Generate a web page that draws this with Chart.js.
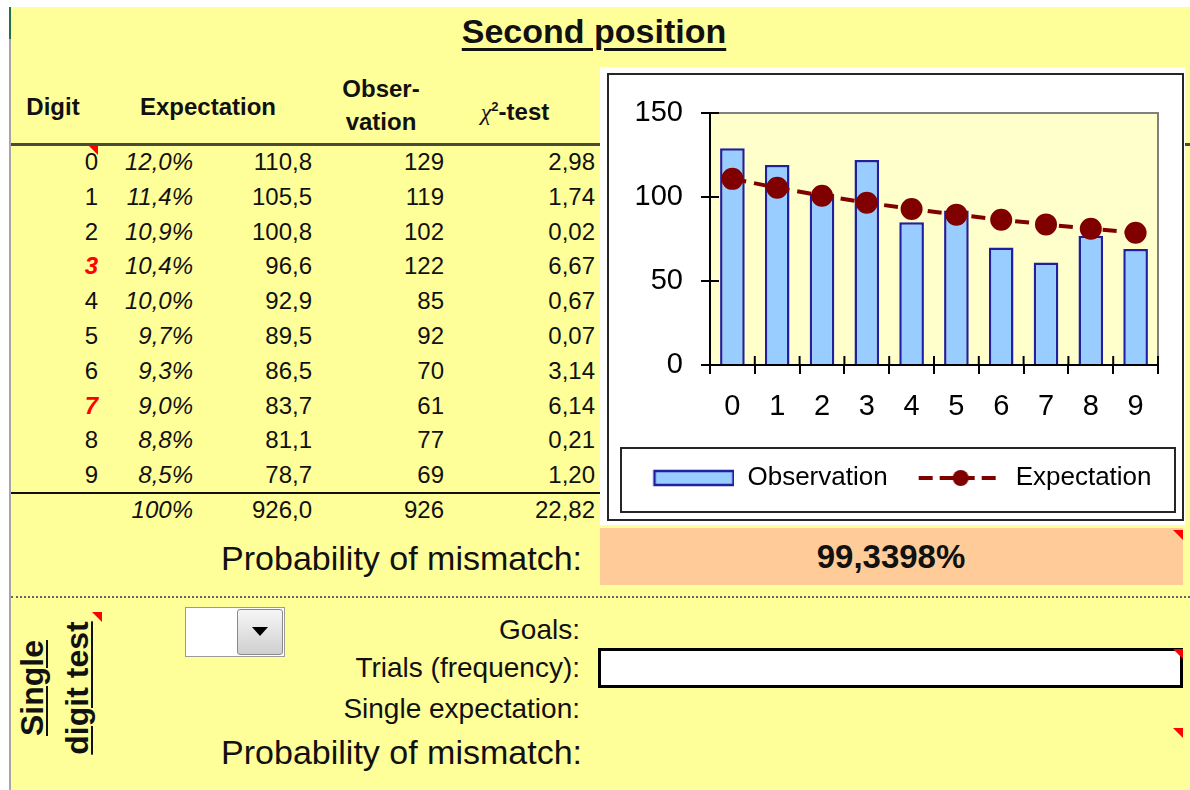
<!DOCTYPE html>
<html>
<head>
<meta charset="utf-8">
<title>Second position</title>
<script src="https://cdn.jsdelivr.net/npm/chart.js@4.4.0/dist/chart.umd.min.js"></script>
<style>
  html, body { margin: 0; padding: 0; }
  body {
    width: 1190px; height: 790px; overflow: hidden; position: relative;
    background: #fff; color: #111;
    font-family: "Liberation Sans", Arial, sans-serif;
  }
  .abs { position: absolute; }
  .cell { position: absolute; white-space: nowrap; height: 40px; line-height: 40px; }
  .it { font-style: italic; }
  .b { font-weight: bold; }
  .red { color: #ff0000; font-weight: bold; font-style: italic; }
  .flag { position: absolute; width: 0; height: 0; border-top: 10px solid #ff0000; border-left: 10px solid transparent; }
  #sheet { left: 11px; top: 7px; width: 1179px; height: 783px; background: #ffff99; }
  #title {
    left: 394px; width: 400px; top: 12px; text-align: center;
    font-size: 34px; font-weight: bold; text-decoration: underline;
    text-decoration-thickness: 3px; text-underline-offset: 5px;
  }
  #chartWrap { left: 600px; top: 67px; width: 585px; height: 458px; background: #fff; z-index: 2; }
  #chartFrame { left: 607px; top: 73px; width: 573px; height: 444px; border: 2px solid #262626; z-index: 3; background: #fff; }
  #rotated {
    left: -25px; top: 643px; width: 160px; height: 90px; line-height: 45px;
    text-align: center; font-size: 32px; font-weight: bold;
    text-decoration: underline; text-decoration-thickness: 2px; text-underline-offset: 3px;
    transform: rotate(-90deg);
  }
</style>
</head>
<body>
<div class="abs" id="sheet"></div>
<div class="abs" style="left:9px;top:7px;width:2px;height:783px;background:#a6a6a6;"></div>
<div class="abs" style="left:9px;top:7px;width:2px;height:32px;background:#217346;"></div>

<div class="abs" id="title">Second position</div>

<!-- sheet rules -->
<div class="abs" style="left:11px;top:143px;width:1179px;height:3px;background:#4a4a3a;"></div>
<div class="abs" style="left:11px;top:492px;width:590px;height:2px;background:#111;"></div>
<div class="abs" style="left:11px;top:596px;width:1179px;height:0;border-top:2px dotted #666;"></div>

<!-- mismatch cell -->
<div class="abs" style="left:600px;top:528px;width:583px;height:57px;background:#ffcc99;"></div>

<!-- dropdown -->
<div class="abs" style="left:185px;top:607px;width:98px;height:48px;background:#fff;border:1px solid #9a9a9a;"></div>
<div class="abs" style="left:237px;top:609px;width:44px;height:44px;border:1px solid #8a8a8a;border-radius:3px;background:linear-gradient(#f6f6f6,#cfcfcf);"></div>
<div class="abs" style="left:252px;top:627px;width:0;height:0;border-left:8px solid transparent;border-right:8px solid transparent;border-top:9px solid #000;"></div>

<!-- trials box -->
<div class="abs" style="left:598px;top:648px;width:579px;height:34px;background:#fff;border:3px solid #000;"></div>

<div class="abs" id="rotated">Single<br>digit test</div>

<div class="abs" id="chartWrap"></div>
<div class="abs" id="chartFrame"><canvas id="chart" width="573" height="444"></canvas></div>

<script>
// chart and table values
const digits = ['0', '1', '2', '3', '4', '5', '6', '7', '8', '9'];
const expectShare = [12.0, 11.4, 10.9, 10.4, 10.0, 9.7, 9.3, 9.0, 8.8, 8.5];
const expectation = [110.8, 105.5, 100.8, 96.6, 92.9, 89.5, 86.5, 83.7, 81.1, 78.7];
const observation = [129, 119, 102, 122, 85, 92, 70, 61, 77, 69];
const chiSquare = [2.98, 1.74, 0.02, 6.67, 0.67, 0.07, 3.14, 6.14, 0.21, 1.20];
const flaggedDigits = ['3', '7'];
const totalShare = 100;
const totalExpectation = 926.0;
const totalObservation = 926;
const totalChi = 22.82;
const mismatchProbability = 99.3398;
const yMin = 0, yMax = 150, yStep = 50;

const fmt = (v, d) => v.toFixed(d).replace('.', ',');

function put(text, x, y, align, size, cls) {
    const el = document.createElement('div');
    el.className = 'cell ' + (cls || '');
    el.textContent = text;
    const w = 500;
    el.style.width = w + 'px';
    el.style.textAlign = align;
    el.style.left = (align === 'right' ? x - w : align === 'center' ? x - w / 2 : x) + 'px';
    el.style.top = (y - 20) + 'px';
    el.style.fontSize = size + 'px';
    el.style.zIndex = 1;
    document.body.appendChild(el);
}

// === TABLE ===
put('Digit', 53, 107, 'center', 24, 'b');
put('Expectation', 208, 107, 'center', 24, 'b');
put('Obser-', 381, 89, 'center', 24, 'b');
put('vation', 381, 122, 'center', 24, 'b');
const chiHead = document.createElement('div');
chiHead.className = 'cell b';
chiHead.innerHTML = '<i style="font-family:\'Liberation Serif\',serif;font-weight:normal">&chi;</i><sup style="font-size:13px">2</sup>-test';
chiHead.style.cssText += 'left:415px;width:200px;text-align:center;top:87px;font-size:24px;z-index:1';
document.body.appendChild(chiHead);

digits.forEach((d, i) => {
    const y = 162 + i * 34.8;
    put(d, 98, y, 'right', 24, flaggedDigits.includes(d) ? 'red' : '');
    put(fmt(expectShare[i], 1) + '%', 193, y, 'right', 24, 'it');
    put(fmt(expectation[i], 1), 312, y, 'right', 24);
    put(String(observation[i]), 444, y, 'right', 24);
    put(fmt(chiSquare[i], 2), 595, y, 'right', 24);
});
put(totalShare + '%', 193, 510, 'right', 24, 'it');
put(fmt(totalExpectation, 1), 312, 510, 'right', 24);
put(String(totalObservation), 444, 510, 'right', 24);
put(fmt(totalChi, 2), 595, 510, 'right', 24);

put('Probability of mismatch:', 582, 558, 'right', 34);
put(fmt(mismatchProbability, 4) + '%', 891, 557, 'center', 33, 'b');
put('Goals:', 580, 630, 'right', 28);
put('Trials (frequency):', 580, 668, 'right', 28);
put('Single expectation:', 580, 709, 'right', 28);
put('Probability of mismatch:', 582, 752, 'right', 34);

// comment markers
[[98, 145], [102, 612], [1183, 530], [1183, 649], [1183, 728]].forEach(([x, y]) => {
    const f = document.createElement('div');
    f.className = 'flag';
    f.style.left = (x - 10) + 'px';
    f.style.top = y + 'px';
    f.style.zIndex = 4;
    document.body.appendChild(f);
});

// === CHART ===
Chart.defaults.font.family = '"Liberation Sans", Arial, sans-serif';
Chart.defaults.color = '#000';

const SYMBOL_W = 95;
function legendSymbol(kind) {
    const c = document.createElement('canvas');
    c.width = SYMBOL_W; c.height = 26;
    const g = c.getContext('2d');
    if (kind === 'bar') {
        g.fillStyle = '#99ccff';
        g.strokeStyle = '#1f1f9f';
        g.lineWidth = 2.5;
        g.fillRect(15, 6, 79, 14);
        g.strokeRect(15, 6, 79, 14);
    } else {
        g.strokeStyle = '#800000';
        g.lineWidth = 4;
        g.setLineDash([14, 7]);
        g.beginPath();
        g.moveTo(11, 13); g.lineTo(95, 13);
        g.stroke();
        g.fillStyle = '#800000';
        g.beginPath();
        g.arc(53, 13, 8, 0, Math.PI * 2);
        g.fill();
    }
    return c;
}
const barSymbol = legendSymbol('bar');
const lineSymbol = legendSymbol('line');

const frameDecor = {
    id: 'frameDecor',
    beforeDraw(chart) {
        const { ctx, chartArea: a } = chart;
        ctx.save();
        ctx.fillStyle = '#ffffcc';
        ctx.fillRect(a.left, a.top, a.right - a.left, a.bottom - a.top);
        ctx.restore();
    },
    afterDraw(chart) {
        const { ctx, chartArea: a } = chart;
        ctx.save();
        // plot area border (top and right)
        ctx.strokeStyle = '#808080';
        ctx.lineWidth = 2;
        ctx.beginPath();
        ctx.moveTo(a.left, a.top); ctx.lineTo(a.right, a.top); ctx.lineTo(a.right, a.bottom);
        ctx.stroke();
        // cross tick marks inside the plot
        ctx.strokeStyle = '#000';
        const ys = chart.scales.y;
        ys.ticks.forEach(t => {
            const y = ys.getPixelForValue(t.value);
            ctx.beginPath(); ctx.moveTo(a.left, y); ctx.lineTo(a.left + 9, y); ctx.stroke();
        });
        const n = chart.data.labels.length;
        for (let i = 0; i <= n; i++) {
            const x = a.left + i * (a.right - a.left) / n;
            ctx.beginPath(); ctx.moveTo(x, a.bottom - 9); ctx.lineTo(x, a.bottom); ctx.stroke();
        }
        // legend box
        const lg = chart.legend;
        ctx.strokeStyle = '#262626';
        ctx.lineWidth = 2;
        ctx.strokeRect(12, lg.top + 3, chart.width - 19, 64);
        ctx.restore();
    }
};

new Chart(document.getElementById('chart').getContext('2d'), {
    type: 'bar',
    data: {
        labels: digits,
        datasets: [{
            type: 'bar',
            label: 'Observation',
            data: observation,
            backgroundColor: '#99ccff',
            borderColor: '#1f1f9f',
            borderWidth: 2.5,
            barPercentage: 0.55,
            categoryPercentage: 1,
            order: 2
        }, {
            type: 'line',
            label: 'Expectation',
            data: expectation,
            borderColor: '#800000',
            borderWidth: 4,
            borderDash: [14, 8],
            pointRadius: 9,
            pointBackgroundColor: '#800000',
            pointBorderColor: '#800000',
            tension: 0,
            order: 1
        }]
    },
    options: {
        responsive: false,
        animation: false,
        layout: { padding: { top: 38, left: 0, right: 0, bottom: 18 } },
        scales: {
            x: {
                grid: { offset: true, drawOnChartArea: false, drawTicks: true, tickLength: 9, color: '#000', lineWidth: 2 },
                border: { color: '#000', width: 2 },
                ticks: { font: { size: 29 }, padding: 16, color: '#000' },
                afterFit(s) { s.height = 80; }
            },
            y: {
                min: yMin, max: yMax,
                grid: { drawOnChartArea: false, drawTicks: true, tickLength: 9, color: '#000', lineWidth: 2 },
                border: { color: '#000', width: 2 },
                ticks: { stepSize: yStep, font: { size: 29 }, padding: 18, color: '#000' },
                afterFit(s) { s.width = 101; }
            },
            spacer: {
                position: 'right',
                display: true,
                grid: { display: false },
                border: { display: false },
                ticks: { display: false },
                afterFit(s) { s.width = 24; }
            }
        },
        plugins: {
            tooltip: { enabled: false },
            legend: {
                position: 'bottom',
                labels: {
                    usePointStyle: true,
                    pointStyleWidth: SYMBOL_W,
                    padding: 20,
                    font: { size: 26 },
                    color: '#000',
                    generateLabels(chart) {
                        return chart.data.datasets.map((ds, i) => ({
                            text: ds.label,
                            pointStyle: i === 0 ? barSymbol : lineSymbol,
                            fillStyle: 'transparent',
                            strokeStyle: 'transparent',
                            lineWidth: 0,
                            fontColor: '#000',
                            datasetIndex: i,
                            hidden: false
                        }));
                    }
                }
            }
        }
    },
    plugins: [frameDecor]
});
</script>
</body>
</html>
